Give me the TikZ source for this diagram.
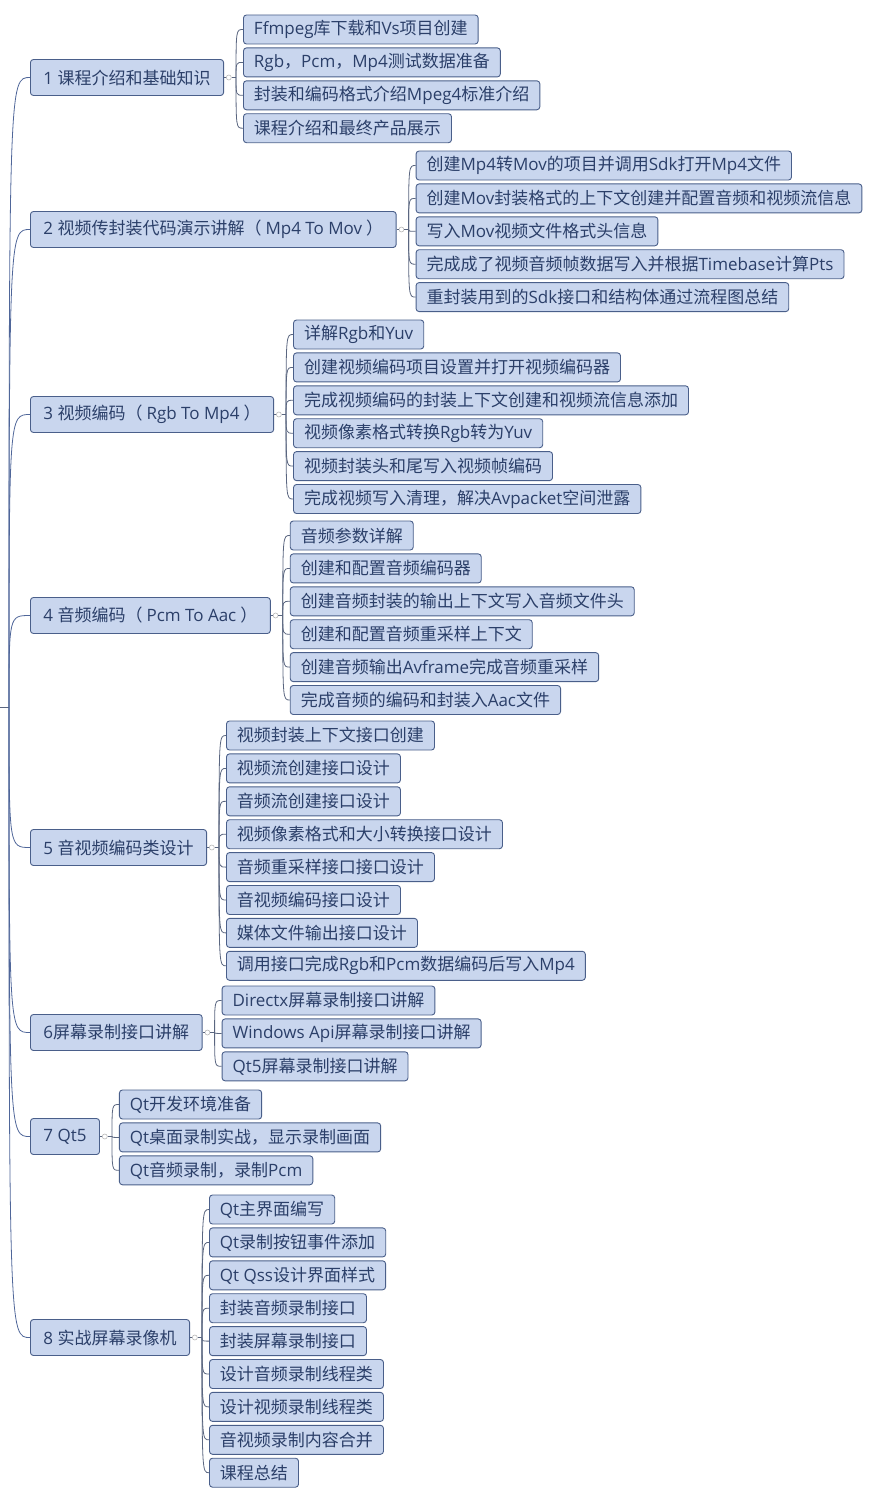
\documentclass[tikz,border=0pt]{standalone}
\usepackage{fontspec}
\newfontfamily\cjk{Noto Sans CJK SC}
\newfontfamily\latin{Open Sans}
\usepackage{tikz}
\usetikzlibrary{positioning}

% Latin letters in Open Sans, CJK characters in Noto Sans CJK
\XeTeXinterchartokenstate=1
\newXeTeXintercharclass\cjkcls
\newcount\cjkcode
\cjkcode="3000
\loop \XeTeXcharclass\cjkcode=\cjkcls \advance\cjkcode by 1 \ifnum\cjkcode<"A000 \repeat
\cjkcode="FF00
\loop \XeTeXcharclass\cjkcode=\cjkcls \advance\cjkcode by 1 \ifnum\cjkcode<"FFF0 \repeat
\XeTeXinterchartoks 0 \cjkcls = {\cjk}
\XeTeXinterchartoks 4095 \cjkcls = {\cjk}
\XeTeXinterchartoks \cjkcls 0 = {\latin}
\XeTeXinterchartoks 4095 0 = {\latin}

\definecolor{boxfill}{HTML}{C9D6EE}
\definecolor{boxline}{HTML}{4A5F8A}
\definecolor{boxtext}{HTML}{2B3F69}
\definecolor{wire}{HTML}{5A6680}
\definecolor{trunkline}{HTML}{4F6699}

\newcommand{\opn}{（\kern4pt}
\newcommand{\cls}{\kern4pt）}

\begin{document}
\begin{tikzpicture}[x=1pt, y=-1pt,
    topic/.style={rectangle, draw=boxline, fill=boxfill, text=boxtext, rounded corners=3pt, line width=0.9pt, font=\latin\fontsize{17}{20}\selectfont, minimum height=36pt, inner xsep=13pt, anchor=west},
    leaf/.style={topic, minimum height=29pt, inner xsep=10.5pt},
    knob/.style={circle, draw=gray!55, fill=white, line width=0.6pt, inner sep=0pt, minimum size=5pt},
    fork/.style={coordinate},
    branch/.style={draw=wire, line width=0.8pt, to path={.. controls (\tikztostart |- \tikztotarget) .. (\tikztotarget)}},
    trunk/.style={branch, draw=trunkline}]
        \useasboundingbox (0,0) rectangle (880,1496);
        % root stub at the left edge
        \coordinate (stub) at (0,707);
        \coordinate (root) at (9,707);

        % chapters
        \node[topic] (ch1) at (30,77.5) {1 课程介绍和基础知识};
        \node[topic] (ch2) at (30,229.5) {2 视频传封装代码演示讲解\opn Mp4 To Mov\cls};
        \node[topic] (ch3) at (30,414.5) {3 视频编码\opn Rgb To Mp4\cls};
        \node[topic] (ch4) at (30,615.5) {4 音频编码\opn Pcm To Aac\cls};
        \node[topic] (ch5) at (30,847.5) {5 音视频编码类设计};
        \node[topic] (ch6) at (30,1032.5) {6屏幕录制接口讲解};
        \node[topic] (ch7) at (30,1136.5) {7 Qt5};
        \node[topic] (ch8) at (30,1337.5) {8 实战屏幕录像机};

        % chapter 1
        \node[leaf] (c1a) [right=19pt of ch1, yshift=48pt] {Ffmpeg库下载和Vs项目创建};
        \node[leaf] (c1b) [below right=3pt and 0pt of c1a.south west] {Rgb，Pcm，Mp4测试数据准备};
        \node[leaf] (c1c) [below right=3pt and 0pt of c1b.south west] {封装和编码格式介绍Mpeg4标准介绍};
        \node[leaf] (c1d) [below right=3pt and 0pt of c1c.south west] {课程介绍和最终产品展示};

        % chapter 2
        \node[leaf] (c2a) [right=19pt of ch2, yshift=64pt] {创建Mp4转Mov的项目并调用Sdk打开Mp4文件};
        \node[leaf] (c2b) [below right=3pt and 0pt of c2a.south west] {创建Mov封装格式的上下文创建并配置音频和视频流信息};
        \node[leaf] (c2c) [below right=3pt and 0pt of c2b.south west] {写入Mov视频文件格式头信息};
        \node[leaf] (c2d) [below right=3pt and 0pt of c2c.south west] {完成成了视频音频帧数据写入并根据Timebase计算Pts};
        \node[leaf] (c2e) [below right=3pt and 0pt of c2d.south west] {重封装用到的Sdk接口和结构体通过流程图总结};

        % chapter 3
        \node[leaf] (c3a) [right=19pt of ch3, yshift=80pt] {详解Rgb和Yuv};
        \node[leaf] (c3b) [below right=3pt and 0pt of c3a.south west] {创建视频编码项目设置并打开视频编码器};
        \node[leaf] (c3c) [below right=3pt and 0pt of c3b.south west] {完成视频编码的封装上下文创建和视频流信息添加};
        \node[leaf] (c3d) [below right=3pt and 0pt of c3c.south west] {视频像素格式转换Rgb转为Yuv};
        \node[leaf] (c3e) [below right=3pt and 0pt of c3d.south west] {视频封装头和尾写入视频帧编码};
        \node[leaf] (c3f) [below right=3pt and 0pt of c3e.south west] {完成视频写入清理，解决Avpacket空间泄露};

        % chapter 4
        \node[leaf] (c4a) [right=19pt of ch4, yshift=80pt] {音频参数详解};
        \node[leaf] (c4b) [below right=3pt and 0pt of c4a.south west] {创建和配置音频编码器};
        \node[leaf] (c4c) [below right=3pt and 0pt of c4b.south west] {创建音频封装的输出上下文写入音频文件头};
        \node[leaf] (c4d) [below right=3pt and 0pt of c4c.south west] {创建和配置音频重采样上下文};
        \node[leaf] (c4e) [below right=3pt and 0pt of c4d.south west] {创建音频输出Avframe完成音频重采样};
        \node[leaf] (c4f) [below right=3pt and 0pt of c4e.south west] {完成音频的编码和封装入Aac文件};

        % chapter 5
        \node[leaf] (c5a) [right=19pt of ch5, yshift=112pt] {视频封装上下文接口创建};
        \node[leaf] (c5b) [below right=3pt and 0pt of c5a.south west] {视频流创建接口设计};
        \node[leaf] (c5c) [below right=3pt and 0pt of c5b.south west] {音频流创建接口设计};
        \node[leaf] (c5d) [below right=3pt and 0pt of c5c.south west] {视频像素格式和大小转换接口设计};
        \node[leaf] (c5e) [below right=3pt and 0pt of c5d.south west] {音频重采样接口接口设计};
        \node[leaf] (c5f) [below right=3pt and 0pt of c5e.south west] {音视频编码接口设计};
        \node[leaf] (c5g) [below right=3pt and 0pt of c5f.south west] {媒体文件输出接口设计};
        \node[leaf] (c5h) [below right=3pt and 0pt of c5g.south west] {调用接口完成Rgb和Pcm数据编码后写入Mp4};

        % chapter 6
        \node[leaf] (c6a) [right=19pt of ch6, yshift=32pt] {Directx屏幕录制接口讲解};
        \node[leaf] (c6b) [below right=3pt and 0pt of c6a.south west] {Windows Api屏幕录制接口讲解};
        \node[leaf] (c6c) [below right=3pt and 0pt of c6b.south west] {Qt5屏幕录制接口讲解};

        % chapter 7
        \node[leaf] (c7a) [right=19pt of ch7, yshift=32pt] {Qt开发环境准备};
        \node[leaf] (c7b) [below right=3pt and 0pt of c7a.south west] {Qt桌面录制实战，显示录制画面};
        \node[leaf] (c7c) [below right=3pt and 0pt of c7b.south west] {Qt音频录制，录制Pcm};

        % chapter 8
        \node[leaf] (c8a) [right=19pt of ch8, yshift=128pt] {Qt主界面编写};
        \node[leaf] (c8b) [below right=3pt and 0pt of c8a.south west] {Qt录制按钮事件添加};
        \node[leaf] (c8c) [below right=3pt and 0pt of c8b.south west] {Qt Qss设计界面样式};
        \node[leaf] (c8d) [below right=3pt and 0pt of c8c.south west] {封装音频录制接口};
        \node[leaf] (c8e) [below right=3pt and 0pt of c8d.south west] {封装屏幕录制接口};
        \node[leaf] (c8f) [below right=3pt and 0pt of c8e.south west] {设计音频录制线程类};
        \node[leaf] (c8g) [below right=3pt and 0pt of c8f.south west] {设计视频录制线程类};
        \node[leaf] (c8h) [below right=3pt and 0pt of c8g.south west] {音视频录制内容合并};
        \node[leaf] (c8i) [below right=3pt and 0pt of c8h.south west] {课程总结};

        % collapse knobs and fork points
        \node[knob] (k1) [right=2pt of ch1] {};
        \node[knob] (k2) [right=2pt of ch2] {};
        \node[knob] (k3) [right=2pt of ch3] {};
        \node[knob] (k4) [right=2pt of ch4] {};
        \node[knob] (k5) [right=2pt of ch5] {};
        \node[knob] (k6) [right=2pt of ch6] {};
        \node[knob] (k7) [right=2pt of ch7] {};
        \node[knob] (k8) [right=2pt of ch8] {};
        \node[fork] (f1) [right=12pt of ch1] {};
        \node[fork] (f2) [right=12pt of ch2] {};
        \node[fork] (f3) [right=12pt of ch3] {};
        \node[fork] (f4) [right=12pt of ch4] {};
        \node[fork] (f5) [right=12pt of ch5] {};
        \node[fork] (f6) [right=12pt of ch6] {};
        \node[fork] (f7) [right=12pt of ch7] {};
        \node[fork] (f8) [right=12pt of ch8] {};

        % trunk
        \draw[wire, line width=0.8pt] (stub) -- (root);
        \path (root) edge[trunk] (ch1) edge[trunk] (ch2) edge[trunk] (ch3) edge[trunk] (ch4)
                     edge[trunk] (ch5) edge[trunk] (ch6) edge[trunk] (ch7) edge[trunk] (ch8);

        % branches
        \draw[wire, line width=0.8pt] (ch1) -- (k1) -- (f1) (ch2) -- (k2) -- (f2) (ch3) -- (k3) -- (f3) (ch4) -- (k4) -- (f4)
                                      (ch5) -- (k5) -- (f5) (ch6) -- (k6) -- (f6) (ch7) -- (k7) -- (f7) (ch8) -- (k8) -- (f8);
        \path (f1) edge[branch] (c1a) edge[branch] (c1b) edge[branch] (c1c) edge[branch] (c1d);
        \path (f2) edge[branch] (c2a) edge[branch] (c2b) edge[branch] (c2c) edge[branch] (c2d) edge[branch] (c2e);
        \path (f3) edge[branch] (c3a) edge[branch] (c3b) edge[branch] (c3c) edge[branch] (c3d) edge[branch] (c3e) edge[branch] (c3f);
        \path (f4) edge[branch] (c4a) edge[branch] (c4b) edge[branch] (c4c) edge[branch] (c4d) edge[branch] (c4e) edge[branch] (c4f);
        \path (f5) edge[branch] (c5a) edge[branch] (c5b) edge[branch] (c5c) edge[branch] (c5d)
                   edge[branch] (c5e) edge[branch] (c5f) edge[branch] (c5g) edge[branch] (c5h);
        \path (f6) edge[branch] (c6a) edge[branch] (c6b) edge[branch] (c6c);
        \path (f7) edge[branch] (c7a) edge[branch] (c7b) edge[branch] (c7c);
        \path (f8) edge[branch] (c8a) edge[branch] (c8b) edge[branch] (c8c) edge[branch] (c8d) edge[branch] (c8e)
                   edge[branch] (c8f) edge[branch] (c8g) edge[branch] (c8h) edge[branch] (c8i);
    \end{tikzpicture}
\end{document}
